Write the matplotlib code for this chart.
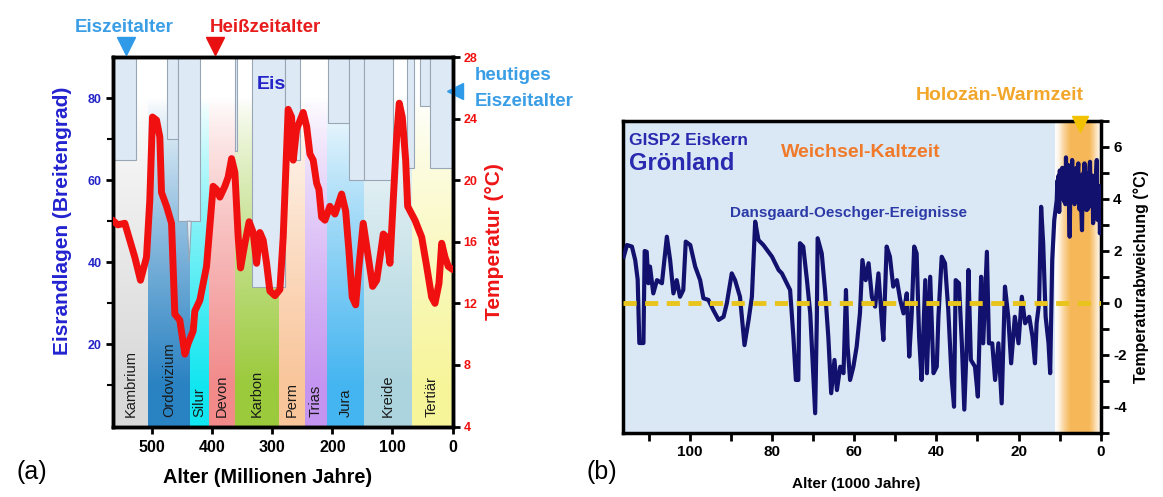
import numpy as np
import matplotlib
matplotlib.use('Agg')
import matplotlib.pyplot as plt
from matplotlib.patches import Rectangle, Polygon
from matplotlib.colors import to_rgb

plt.rcParams['font.family'] = ['Liberation Sans', 'DejaVu Sans']
plt.rcParams['axes.unicode_minus'] = False

W, H = 1163, 497

# ---------------- data panel (a) ----------------
period_names = ['Kambrium', 'Ordovizium', 'Silur', 'Devon', 'Karbon', 'Perm',
                'Trias', 'Jura', 'Kreide', 'Tertiär']
period_bounds = [566, 507, 437.5, 405.8, 362.5, 289, 245.8, 208.6, 147.5, 68, 0]
period_colors = ['#d9d9d9', '#2a82c2', '#12e6f0', '#f28a8a', '#9bca3c', '#f9c59a',
                 '#c495f0', '#45b5f0', '#acd4de', '#f7f59a']

ice_old = [564, 476, 457, 362.5, 334, 279, 207, 172, 147.5, 76, 54, 37.5]
ice_young = [527, 457, 421, 359, 279, 254, 172, 147.5, 99, 64, 37.5, 0]
ice_lat = [65, 70, 50, 67, 34, 65, 74, 60, 60, 63, 78, 63]
spike_age = [442, 438.5, 435]
spike_lat = [50, 40, 50]

temp_age = [566.3, 557.5, 545.8, 537.5, 529.2, 519.7, 509.7, 504.2, 499.7, 493, 487.5,
            484.7, 476.3, 468, 462.5, 454.2, 445.8, 440.3, 432, 429.2, 420.8, 409.7,
            404.2, 398.7, 393, 387.5, 379.2, 373.7, 368, 362.5, 357, 353, 345.8, 338.7,
            332, 326.3, 320.8, 315.3, 309.7, 304.2, 295.8, 287.5, 282, 273.7, 268,
            265.3, 259.7, 248.7, 243, 237.5, 232, 226.3, 222.5, 218, 212.5, 204.2,
            195.8, 184.7, 178, 172.5, 167, 161.3, 155.8, 148.7, 140.3, 133, 126.3,
            119.2, 115.3, 109.7, 104.2, 98.7, 93, 88.7, 83.7, 78, 74.7, 62.5, 51.3,
            43, 34.7, 29.2, 22.5, 18, 12.5, 7, 0]
temp_c = [17.4, 17.1, 17.2, 16.1, 15.0, 13.5, 15.0, 18.7, 24.1, 23.9, 22.8,
          19.2, 18.3, 17.2, 11.3, 10.9, 8.7, 9.4, 10.2, 11.5, 12.2, 14.4,
          17.0, 19.6, 19.4, 18.9, 19.6, 20.2, 21.4, 20.5, 16.3, 14.3, 15.9, 17.3,
          16.6, 14.6, 16.6, 16.1, 14.6, 12.8, 12.5, 12.9, 16.3, 24.6, 24.1,
          21.3, 23.3, 24.4, 23.5, 21.7, 21.3, 19.8, 19.4, 17.6, 17.4, 18.3,
          17.8, 19.1, 18.0, 15.4, 12.4, 11.9, 14.4, 17.2, 15.0, 13.1, 13.5,
          15.4, 16.5, 16.3, 14.6, 18.7, 22.8, 25.0, 24.1, 21.3, 18.3, 17.4, 16.3,
          14.4, 12.4, 12.0, 13.3, 15.9, 15.0, 14.4, 14.2]

# ---------------- data panel (b) ----------------
gisp_age = [116.1, 115.3, 114.1, 113.3, 112.7, 112.3, 111.3, 111.0, 110.5, 110.1, 109.7,
            108.9, 108.0, 106.8, 105.6, 104.8, 104.0, 103.2, 102.4, 101.6, 101.0, 99.9,
            98.7, 97.5, 96.7, 95.5, 94.3, 93.0, 91.8, 91.0, 89.8, 89.0, 87.8, 86.7,
            85.7, 84.9, 84.1, 83.3, 82.1, 80.0, 78.4, 77.6, 76.4, 75.6, 74.8, 74.2,
            73.6, 73.2, 72.4, 71.5, 70.7, 69.9, 69.5, 69.1, 68.9, 67.9, 67.1, 66.3,
            65.6, 64.8, 64.2, 63.4, 62.6, 62.0, 61.6, 61.0, 60.2, 59.4, 58.6, 58.0,
            57.2, 56.5, 55.7, 54.9, 54.1, 53.3, 52.9, 52.1, 51.3, 50.5, 49.6, 48.8,
            48.0, 47.2, 46.6, 46.0, 45.4, 44.8, 44.2, 43.6, 42.7, 42.3, 41.5, 40.7,
            39.9, 39.5, 38.7, 37.9, 37.1, 36.3, 35.7, 35.3, 34.5, 33.8, 33.2, 32.6,
            32.2, 31.6, 30.6, 29.9, 29.1, 28.6, 27.7, 27.2, 26.4, 25.7, 24.9, 24.1,
            23.3, 22.5, 21.8, 20.9, 20.0, 19.2, 18.4, 17.4, 16.6, 16.0, 15.6, 15.0,
            14.5, 14.0, 13.4, 12.7, 12.3, 11.8, 11.3,
            10.7, 10.55, 10.4, 10.25, 10.1, 9.95, 9.8, 9.65, 9.5, 9.35, 9.2, 9.05,
            8.9, 8.75, 8.6, 8.45, 8.3, 8.15, 8.0, 7.85, 7.7, 7.55, 7.4, 7.25, 7.1,
            6.95, 6.8, 6.65, 6.5, 6.35, 6.2, 6.05, 5.9, 5.75, 5.6, 5.45, 5.3, 5.15,
            5.0, 4.85, 4.7, 4.55, 4.4, 4.25, 4.1, 3.95, 3.8, 3.65, 3.5, 3.35, 3.2,
            3.05, 2.9, 2.75, 2.6, 2.45, 2.3, 2.15, 2.0, 1.85, 1.7, 1.55, 1.4, 1.25,
            1.1, 0.95, 0.8, 0.65, 0.5, 0.35, 0.2, 0.05]
gisp_t = [1.78, 2.23, 2.17, 1.65, 0.9, -1.54, -1.54, 2.0, 1.97, 0.76, 1.4,
          0.37, 0.88, 0.76, 2.55, 1.65, 0.37, 0.88, 0.24, 0.5, 2.36, 2.23,
          1.4, 0.88, 0.18, 0.12, -0.27, -0.65, -0.53, -0.01, 1.14, 0.88, 0.24, -1.62,
          -0.65, 0.24, 3.13, 2.42, 2.23, 1.78, 1.27, 1.14, 0.76, 0.5, -1.3, -2.96,
          -2.96, 2.3, 2.17, 0.88, -0.4, -2.96, -4.24, -0.65, 2.49, 1.91, 0.5, -1.3,
          -3.47, -2.19, -3.35, -2.45, -2.7, 0.5, -1.68, -2.96, -2.45, -1.68, -0.4, 1.65,
          0.88, 1.53, 0.24, -0.14, 1.14, -0.65, -1.42, 2.17, 1.78, 0.63, 0.88, 0.12,
          -0.4, 0.37, -2.06, -0.4, 2.17, 1.91, -1.3, -2.96, 0.88, -2.7, 1.01, -2.7,
          -2.45, -0.53, 1.78, 1.53, -0.27, -2.83, -3.99, 0.88, 0.76, -1.55, -4.1, -1.55,
          1.27, -2.19, -2.45, -3.6, 1.01, -1.55, 1.97, -1.55, -1.55, -2.96, -1.55, -3.86,
          0.63, -0.53, -2.32, -0.53, -1.55, 0.24, -0.78, -0.53, -1.3, -2.32, -0.78, -0.01,
          3.7, 2.3, -0.53, -1.55, -2.7, 1.65, 3.19,
          3.96, 4.7, 3.6, 4.9, 3.5, 5.1, 4.3, 5.0, 4.1, 5.2, 4.0, 5.1,
          3.9, 5.0, 3.8, 5.6, 4.4, 5.3, 4.5, 5.3, 3.6, 2.55, 4.2, 4.9, 3.9,
          5.5, 4.2, 5.1, 3.9, 3.8, 5.0, 4.3, 5.2, 4.2, 5.1, 5.37, 3.9, 3.6,
          4.9, 4.2, 3.4, 2.8, 4.6, 5.0, 4.2, 5.37, 3.9, 4.9, 3.58, 4.6, 3.6,
          5.0, 4.0, 5.2, 5.43, 3.8, 4.8, 3.7, 4.9, 3.07, 4.5, 3.6, 4.6, 3.4,
          5.0, 5.5, 3.2, 4.3, 3.3, 4.5, 2.68, 3.0]

holo_start = 10.7

# ---------------- figure ----------------
fig = plt.figure(figsize=(W / 100, H / 100), dpi=100, facecolor='white')


def fx(x):
    return x / W


def fy(y):
    return 1 - y / H


# ===== panel (a) =====
ax = fig.add_axes([fx(112.7), fy(426.5), (452.5 - 112.7) / W, (426.5 - 57) / H])
lat = np.linspace(0, 90, 300)
fade = np.clip((80 - lat) / 70, 0, 1) ** 0.8
for i in range(len(period_names)):
    x0, x1 = period_bounds[i], period_bounds[i + 1]
    rgb = np.array(to_rgb(period_colors[i]))
    arr = np.ones((len(lat), 1, 3))
    arr[:, 0, :] = 1 - fade[:, None] * (1 - rgb[None, :])
    ax.imshow(arr, extent=[x0, x1, 0, 90], origin='lower', aspect='auto',
              zorder=0, interpolation='bilinear')
    ax.text((x0 + x1) / 2, 2.2, period_names[i], rotation=90, ha='center',
            va='bottom', fontsize=10.5, color='#1a1a1a', zorder=3)

for a0, a1, la in zip(ice_old, ice_young, ice_lat):
    ax.add_patch(Rectangle((a1, la), a0 - a1, 90 - la, facecolor='#dde9f5',
                           edgecolor='#98a6b6', lw=0.8, zorder=2))
ax.add_patch(Polygon(list(zip(spike_age, spike_lat)), closed=True,
                     facecolor='#dde9f5', edgecolor='#98a6b6', lw=0.8, zorder=2))

ax.set_xlim(566, 0)
ax.set_ylim(0, 90)
ax.set_xticks([500, 400, 300, 200, 100, 0])
ax.set_yticks([20, 40, 60, 80])
ax.set_yticks([10, 30, 50, 70], minor=True)
ax.tick_params(axis='x', direction='out', length=5, width=2, labelsize=11.5, pad=5)
ax.tick_params(axis='y', which='major', direction='out', length=5, width=2,
               labelsize=9, labelcolor='#2323c8', pad=3)
ax.tick_params(axis='y', which='minor', direction='out', length=4, width=1.5)
for lab in ax.get_xticklabels() + ax.get_yticklabels():
    lab.set_fontweight('bold')
for sp in ax.spines.values():
    sp.set_linewidth(2.5)

ax2 = ax.twinx()
ax2.plot(temp_age, temp_c, color='#f01010', lw=5, solid_joinstyle='round',
         solid_capstyle='round', zorder=5)
ax2.set_ylim(4, 28)
ax2.set_yticks(np.arange(4, 29, 4))
ax2.tick_params(axis='y', direction='out', length=5, width=2, labelsize=9,
                labelcolor='#f01010', pad=3)
for lab in ax2.get_yticklabels():
    lab.set_fontweight('bold')
for sp in ax2.spines.values():
    sp.set_linewidth(2.5)

# markers at top
ax.plot(544, 92.6, marker='v', ms=13, color='#2f9be8', clip_on=False, zorder=10)
ax.plot(396, 92.6, marker='v', ms=13, color='#e81010', clip_on=False, zorder=10)
ax.plot(-4.2, 81.8, marker='<', ms=12, color='#2f9be8', clip_on=False, zorder=10)

fig.text(fx(124), fy(32), 'Eiszeitalter', color='#3a9ee6', fontsize=13.5,
         weight='bold', ha='center', va='baseline')
fig.text(fx(265), fy(32), 'Heißzeitalter', color='#e81c1c', fontsize=13.5,
         weight='bold', ha='center', va='baseline')
fig.text(fx(271), fy(89), 'Eis', color='#2424c8', fontsize=14, weight='bold',
         ha='center', va='baseline')
fig.text(fx(475), fy(80), 'heutiges', color='#3a9ee6', fontsize=13.5,
         weight='bold', ha='left', va='baseline')
fig.text(fx(475), fy(106), 'Eiszeitalter', color='#3a9ee6', fontsize=13.5,
         weight='bold', ha='left', va='baseline')
fig.text(fx(63), fy(221), 'Eisrandlagen (Breitengrad)', rotation=90,
         color='#2323d0', fontsize=15, weight='bold', ha='center', va='center')
fig.text(fx(494), fy(242), 'Temperatur (°C)', rotation=90, color='#ee1515',
         fontsize=15, weight='bold', ha='center', va='center')
fig.text(fx(268), fy(483), 'Alter (Millionen Jahre)', fontsize=14.3,
         weight='bold', ha='center', va='baseline')
fig.text(fx(17), fy(479), '(a)', fontsize=18, ha='left', va='baseline')
fig.text(fx(586), fy(479), '(b)', fontsize=18, ha='left', va='baseline')

# ===== panel (b) =====
axb = fig.add_axes([fx(623.3), fy(433), (1100.7 - 623.3) / W, (433 - 121) / H])
axb.axvspan(116.5, holo_start, color='#dae8f6', zorder=0, lw=0)
ages = np.linspace(11.2, 0, 300)
alpha = np.interp(ages, [0, 1.0, 2.2, 3.0, 7.5, 9.0, 10.3, 11.2],
                  [0.05, 0.25, 0.7, 0.95, 0.95, 0.6, 0.15, 0])
orng = np.array(to_rgb('#f6b450'))
img = np.ones((1, len(ages), 3))
img[0, :, :] = 1 - alpha[:, None] * (1 - orng[None, :])
axb.imshow(img, extent=[11.2, 0, -5, 7], origin='lower', aspect='auto',
           zorder=0, interpolation='bilinear')

axb.plot(gisp_age, gisp_t, color='#12126e', lw=3.0, zorder=3,
         solid_joinstyle='round')
axb.axhline(0, color='#e8c41c', lw=3.5, dashes=(2.7, 1.75), zorder=4)

axb.set_xlim(116.2, 0)
axb.set_ylim(-5, 7)
axb.yaxis.tick_right()
axb.set_xticks([100, 80, 60, 40, 20, 0])
axb.set_xticks([110, 90, 70, 50, 30, 10], minor=True)
axb.set_yticks([-4, -2, 0, 2, 4, 6])
axb.set_yticks([-5, -3, -1, 1, 3, 5, 7], minor=True)
axb.tick_params(which='major', direction='out', length=6, width=2, labelsize=11, pad=3)
axb.tick_params(which='minor', direction='out', length=6, width=2)
for lab in axb.get_xticklabels() + axb.get_yticklabels():
    lab.set_fontweight('bold')
for sp in axb.spines.values():
    sp.set_linewidth(2.5)

axb.plot(5.0, 6.88, marker='v', ms=12, color='#f2c200', clip_on=False, zorder=10)

fig.text(fx(1000), fy(100), 'Holozän-Warmzeit', color='#f2a62a', fontsize=14,
         weight='bold', ha='center', va='baseline')
fig.text(fx(629), fy(145), 'GISP2 Eiskern', color='#2a2ab0', fontsize=12.5,
         weight='bold', ha='left', va='baseline', zorder=6)
fig.text(fx(629), fy(170), 'Grönland', color='#2a2ab0', fontsize=17,
         weight='bold', ha='left', va='baseline', zorder=6)
fig.text(fx(781), fy(157), 'Weichsel-Kaltzeit', color='#f07a2a', fontsize=14,
         weight='bold', ha='left', va='baseline', zorder=6)
fig.text(fx(730), fy(217), 'Dansgaard-Oeschger-Ereignisse', color='#2b3aa6',
         fontsize=11, weight='bold', ha='left', va='baseline', zorder=6)
fig.text(fx(1141), fy(277), 'Temperaturabweichung (°C)', rotation=90,
         fontsize=11.5, weight='bold', ha='center', va='center')
fig.text(fx(856), fy(488), 'Alter (1000 Jahre)', fontsize=11, weight='bold',
         ha='center', va='baseline')

fig.savefig('out.png', dpi=100, facecolor='white')
